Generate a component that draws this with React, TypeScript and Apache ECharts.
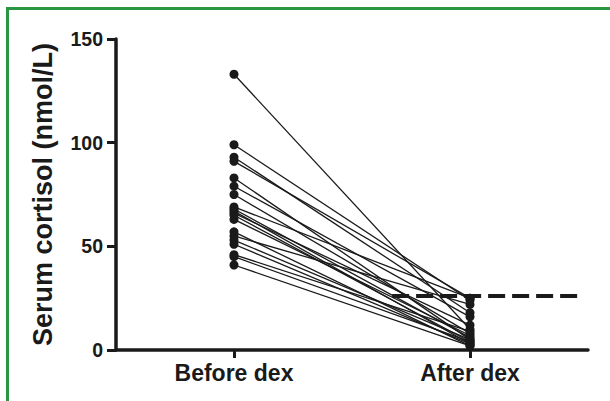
import React, { useEffect, useRef } from "react";
import * as echarts from "echarts";

const categories = ["Before dex", "After dex"];
const beforeValues = [133, 99, 93, 91, 83, 79, 75, 69, 68, 67, 66, 65, 63, 57, 55, 53, 51, 46, 45, 41];
const afterValues = [10, 24, 18, 25, 5, 16, 8, 25, 6, 3, 12, 4, 7, 2, 22, 5, 3, 9, 4, 2];
const cutoffValue = 26;
const cutoffSpan = [0.585, 0.985];
const yTicks = { min: 0, max: 150, interval: 50 };

export default function App() {
  const ref = useRef<HTMLDivElement>(null);
  useEffect(() => {
    if (!ref.current) return;
    const chart = echarts.init(ref.current, null, { renderer: "svg" });
    const font = "'Liberation Sans', Arial, sans-serif";
    const pairSeries = beforeValues.map((b, i) => ({
      type: "line",
      xAxisIndex: 0,
      yAxisIndex: 0,
      data: [b, afterValues[i]],
      symbol: "circle",
      symbolSize: 9,
      itemStyle: { color: "#1a1a1a" },
      lineStyle: { color: "#1a1a1a", width: 1.3 },
      silent: true,
      z: 3,
    }));
    chart.setOption({
      animation: false,
      backgroundColor: "#ffffff",
      grid: { left: 116, right: 22, top: 39, bottom: 51 },
      xAxis: [
        {
          type: "category",
          data: categories,
          boundaryGap: true,
          axisLine: { show: true, lineStyle: { color: "#1a1a1a", width: 3.5 } },
          axisTick: { show: true, alignWithLabel: true, length: 8, lineStyle: { color: "#1a1a1a", width: 3 } },
          axisLabel: { fontFamily: font, fontWeight: "bold", fontSize: 23, color: "#1a1a1a", margin: 11 },
          splitLine: { show: false },
        },
        {
          type: "value",
          min: 0,
          max: 1,
          show: false,
          position: "bottom",
        },
      ],
      yAxis: {
        type: "value",
        min: yTicks.min,
        max: yTicks.max,
        interval: yTicks.interval,
        name: "Serum cortisol (nmol/L)",
        nameLocation: "middle",
        nameGap: 60,
        nameTextStyle: { fontFamily: font, fontWeight: "bold", fontSize: 27, color: "#1a1a1a" },
        axisLine: { show: true, lineStyle: { color: "#1a1a1a", width: 3.5 } },
        axisTick: { show: true, length: 9, lineStyle: { color: "#1a1a1a", width: 3 } },
        axisLabel: { fontFamily: font, fontWeight: "bold", fontSize: 19.5, color: "#1a1a1a", margin: 13 },
        splitLine: { show: false },
      },
      graphic: [
        {
          type: "rect",
          shape: { x: 7.5, y: 8.5, width: 700, height: 500 },
          style: { fill: "none", stroke: "#2a9640", lineWidth: 3 },
          silent: true,
        },
      ],
      series: [
        ...pairSeries,
        {
          type: "line",
          xAxisIndex: 1,
          yAxisIndex: 0,
          data: cutoffSpan.map((x) => [x, cutoffValue]),
          symbol: "none",
          lineStyle: { color: "#1a1a1a", width: 4, type: [17, 7] },
          silent: true,
          z: 4,
        },
      ],
    });
    return () => chart.dispose();
  }, []);
  return (
    <div
      ref={ref}
      style={{ position: "fixed", left: 0, top: 0, width: 610, height: 401 }}
    />
  );
}
